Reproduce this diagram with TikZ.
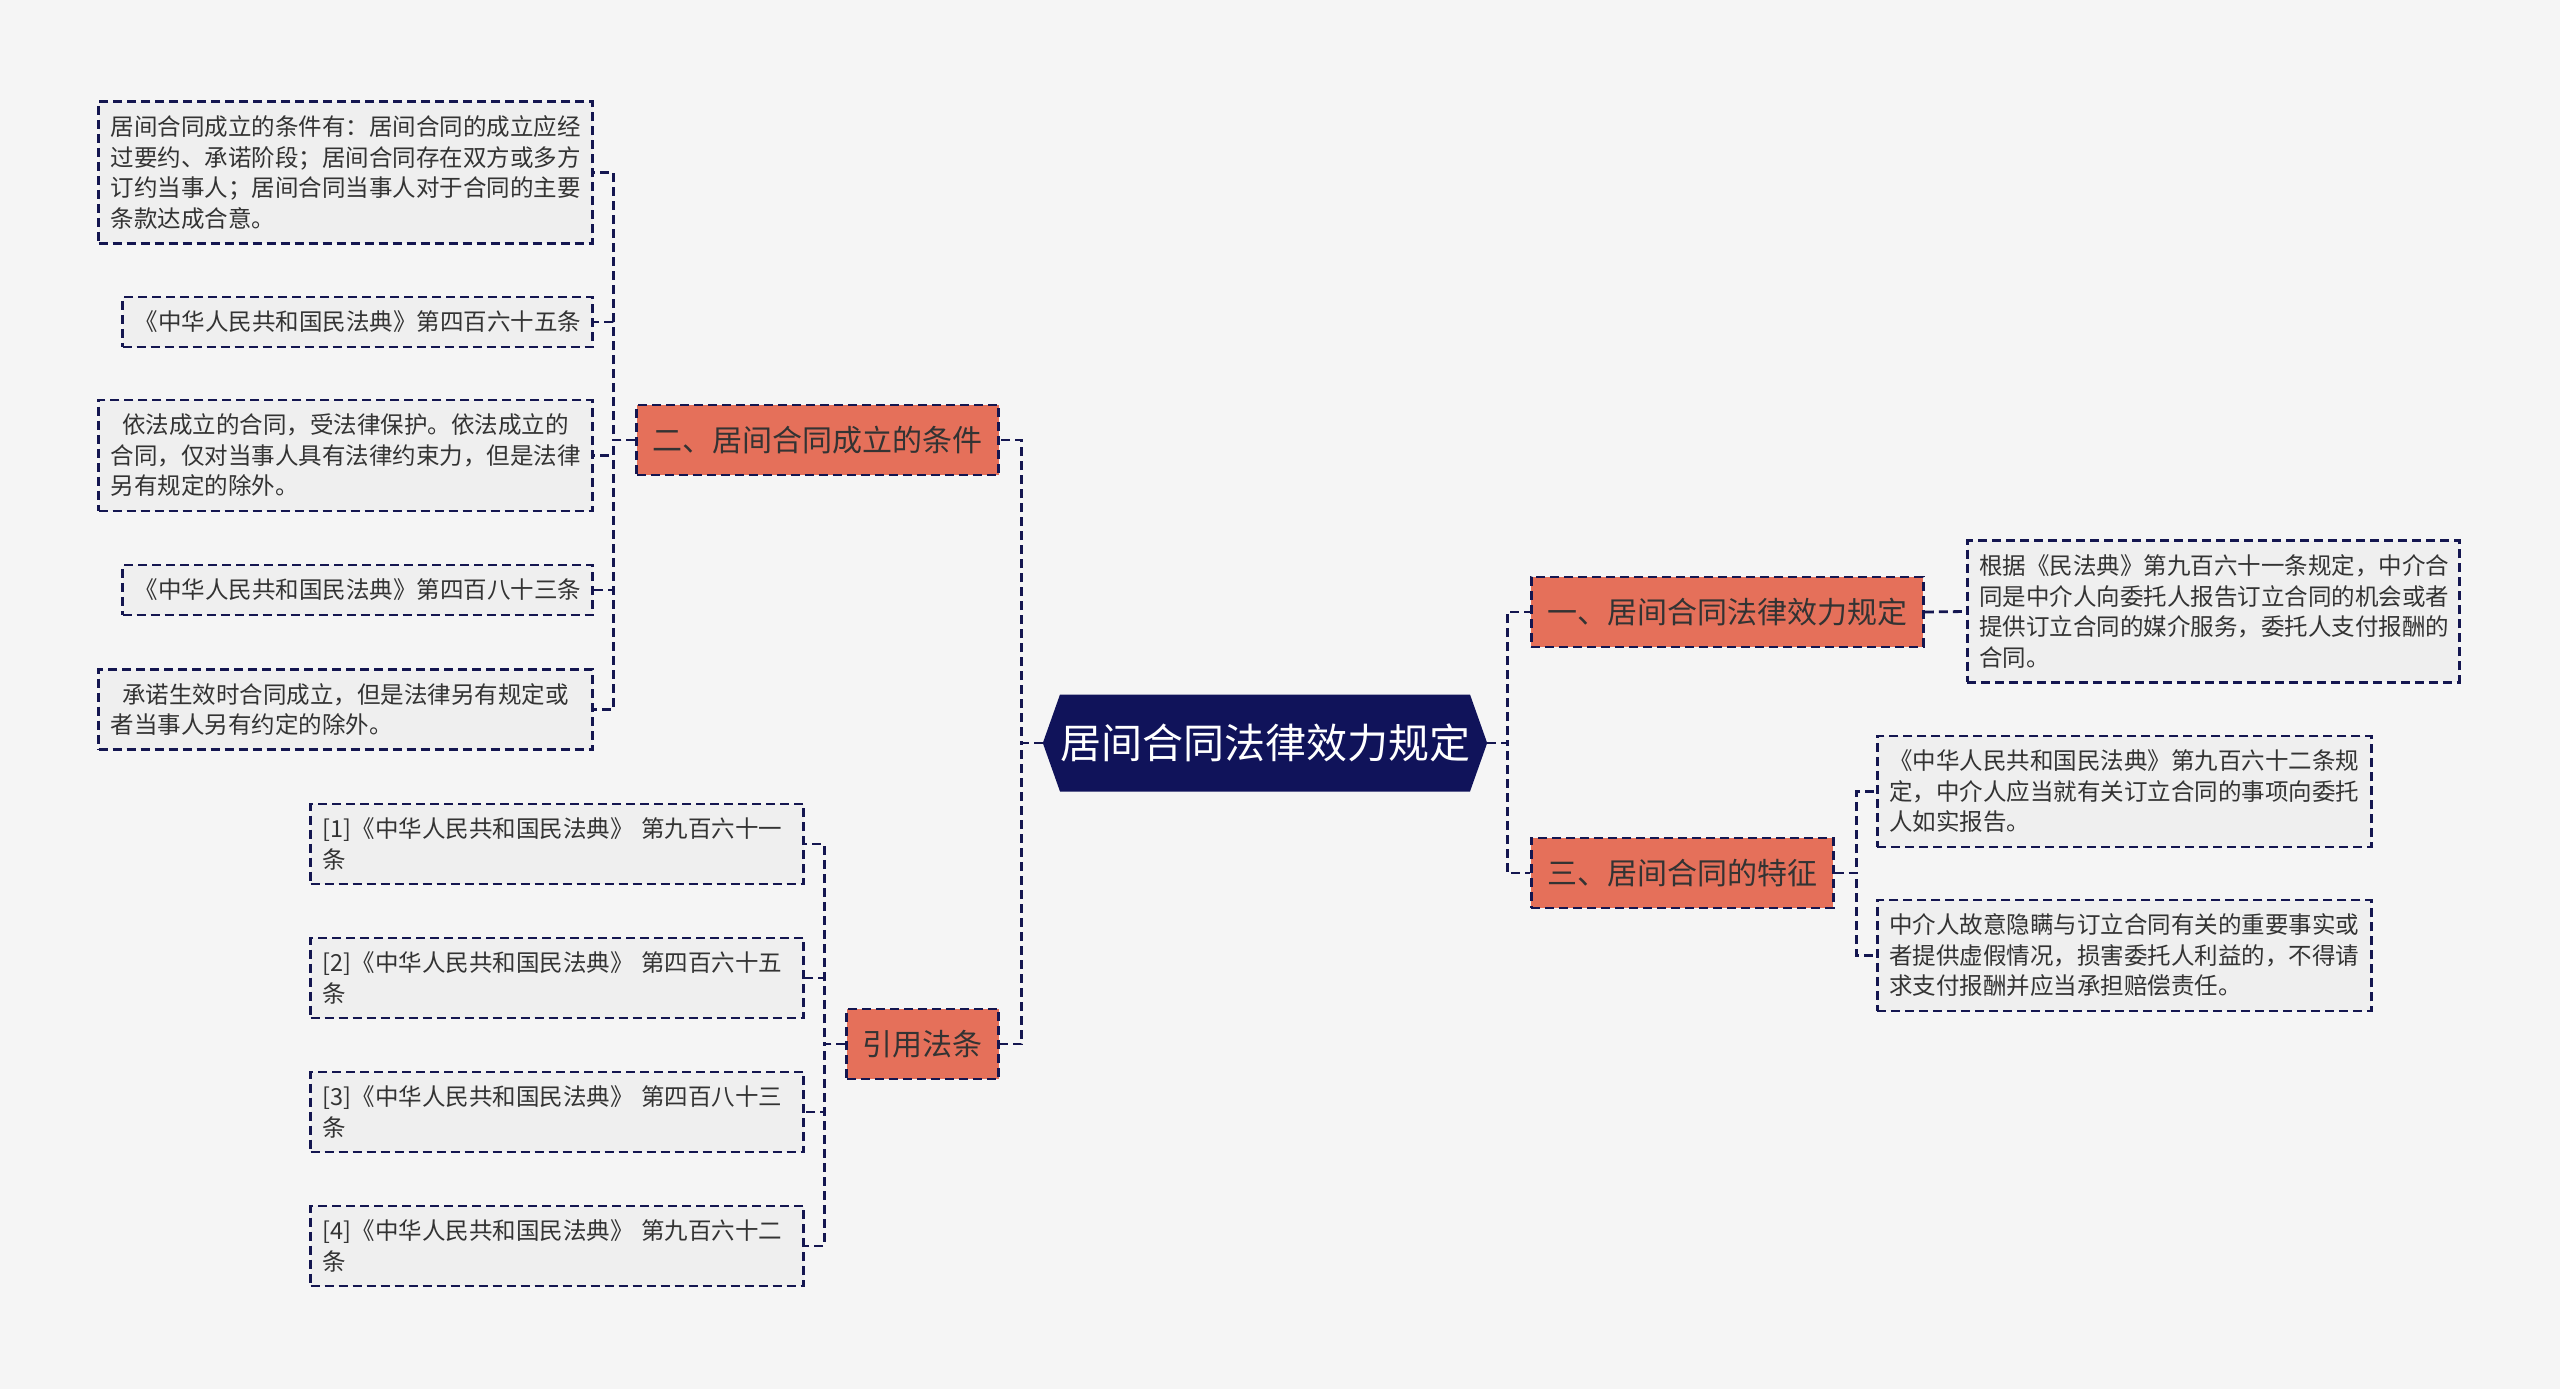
\documentclass[tikz,border=0pt]{standalone}
\usepackage{fontspec}
\setmainfont{Noto Sans CJK SC}
\usetikzlibrary{shapes.symbols}
\definecolor{bgcol}{HTML}{F5F5F5}
\definecolor{navy}{HTML}{141650}
\definecolor{rootfill}{HTML}{10135A}
\definecolor{catfill}{HTML}{E5705A}
\definecolor{leaffill}{HTML}{EFEFEF}
\definecolor{txt}{HTML}{333333}

\begin{document}
\begin{tikzpicture}[x=1pt, y=-1pt,
  link/.style={draw=navy, line width=2.8pt, dash pattern=on 9pt off 5pt},
  root/.style={shape=signal, signal to=west and east, signal pointer angle=141,
    fill=rootfill, text=white, font=\fontsize{41}{50}\selectfont,
    minimum width=416pt, minimum height=97pt, inner sep=0pt},
  cat/.style={link, fill=catfill, text=txt, font=\fontsize{30}{36}\selectfont,
    minimum height=70pt, inner xsep=16pt},
  leaf/.style={link, fill=leaffill, text=txt, font=\fontsize{23.5}{30.5}\selectfont,
    align=left, inner xsep=12pt, inner ysep=14pt}]
  \fill[bgcol] (0,0) rectangle (2560,1389);
  \useasboundingbox (0,0) rectangle (2560,1389);
  % root
  \node[root] (root) at (1265,743) {居间合同法律效力规定};
  % left branches
  \node[cat, anchor=east] (cond) at (1000,440) {二、居间合同成立的条件};
  \node[cat, anchor=east] (refs) at (1000,1044) {引用法条};
  % right branches
  \node[cat, anchor=west] (effect) at (1530,612) {一、居间合同法律效力规定};
  \node[cat, anchor=west] (feat) at (1530,873) {三、居间合同的特征};
  % leaves of cond
  \node[leaf, anchor=east, text width=470pt] (c1) at (594,172.5) {居间合同成立的条件有：居间合同的成立应经\\过要约、承诺阶段；居间合同存在双方或多方\\订约当事人；居间合同当事人对于合同的主要\\条款达成合意。};
  \node[leaf, anchor=east, text width=446pt] (c2) at (594,322) {《中华人民共和国民法典》第四百六十五条};
  \node[leaf, anchor=east, text width=470pt] (c3) at (594,455.5) {\hspace*{0.5em}依法成立的合同，受法律保护。依法成立的\\合同，仅对当事人具有法律约束力，但是法律\\另有规定的除外。};
  \node[leaf, anchor=east, text width=446pt] (c4) at (594,590) {《中华人民共和国民法典》第四百八十三条};
  \node[leaf, anchor=east, text width=470pt] (c5) at (594,709.5) {\hspace*{0.5em}承诺生效时合同成立，但是法律另有规定或\\者当事人另有约定的除外。};
  % leaves of refs
  \node[leaf, anchor=east, text width=469pt] (r1) at (805,844) {[1]《中华人民共和国民法典》 第九百六十一\\条};
  \node[leaf, anchor=east, text width=469pt] (r2) at (805,978) {[2]《中华人民共和国民法典》 第四百六十五\\条};
  \node[leaf, anchor=east, text width=469pt] (r3) at (805,1112) {[3]《中华人民共和国民法典》 第四百八十三\\条};
  \node[leaf, anchor=east, text width=469pt] (r4) at (805,1246) {[4]《中华人民共和国民法典》 第九百六十二\\条};
  % leaves of effect and feat
  \node[leaf, anchor=west, text width=468pt] (e1) at (1966,611.5) {根据《民法典》第九百六十一条规定，中介合\\同是中介人向委托人报告订立合同的机会或者\\提供订立合同的媒介服务，委托人支付报酬的\\合同。};
  \node[leaf, anchor=west, text width=470pt] (f1) at (1876,791.5) {《中华人民共和国民法典》第九百六十二条规\\定，中介人应当就有关订立合同的事项向委托\\人如实报告。};
  \node[leaf, anchor=west, text width=470pt] (f2) at (1876,955.5) {中介人故意隐瞒与订立合同有关的重要事实或\\者提供虚假情况，损害委托人利益的，不得请\\求支付报酬并应当承担赔偿责任。};
  % connectors
  \draw[link] (root.west) -- ++(-21,0) |- (cond.east);
  \draw[link] (root.west) -- ++(-21,0) |- (refs.east);
  \draw[link] (root.east) -- ++(20,0) |- (effect.west);
  \draw[link] (root.east) -- ++(20,0) |- (feat.west);
  \foreach \n in {c1,c2,c3,c4,c5}
    \draw[link] (cond.west) -- ++(-22,0) |- (\n.east);
  \foreach \n in {r1,r2,r3,r4}
    \draw[link] (refs.west) -- ++(-21,0) |- (\n.east);
  \draw[link] (effect.east) -- (e1.west);
  \foreach \n in {f1,f2}
    \draw[link] (feat.east) -- ++(22,0) |- (\n.west);
\end{tikzpicture}
\end{document}
